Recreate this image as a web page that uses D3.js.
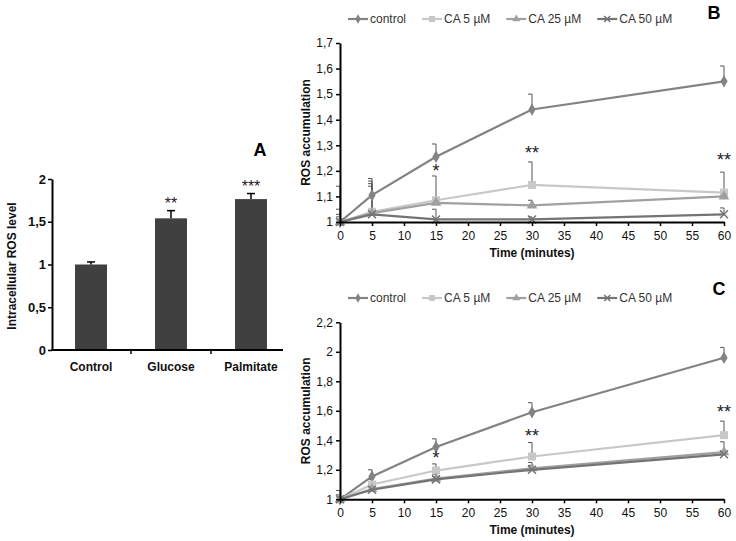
<!DOCTYPE html>
<html>
<head>
<meta charset="utf-8">
<script src="https://cdn.jsdelivr.net/npm/d3@7"></script>
<style>
  body { margin: 0; background: #fff; }
  svg { display: block; font-family: "Liberation Sans", Arial, sans-serif; }
</style>
</head>
<body>
<svg id="fig" width="736" height="541"></svg>
<script>
// ---- panel A data
var barCategories = ['Control', 'Glucose', 'Palmitate'];
var barValues = [1.0, 1.54, 1.765];
var barErrors = [0.03, 0.09, 0.065];
var barStars = ['', '**', '***'];
var barTicks = [0, 0.5, 1, 1.5, 2];

// ---- panels B and C data
var timePoints = [0, 5, 15, 30, 60];
var timeTicks = [0, 5, 10, 15, 20, 25, 30, 35, 40, 45, 50, 55, 60];
var seriesNames = ['control', 'CA 5 µM', 'CA 25 µM', 'CA 50 µM'];

var bControl = [1.0, 1.105, 1.255, 1.44, 1.55];
var bCa5 = [1.0, 1.04, 1.085, 1.145, 1.115];
var bCa25 = [1.0, 1.035, 1.075, 1.065, 1.10];
var bCa50 = [1.0, 1.03, 1.01, 1.01, 1.03];
var bControlErr = [0.14, 0.065, 0.05, 0.06, 0.06];
var bCa5Err = [0.05, 0.12, 0.095, 0.09, 0.08];
var bCa25Err = [0.03, 0.115, 0.02, 0.02, 0.02];
var bCa50Err = [0.02, 0.11, 0.04, 0.01, 0.025];
var bStarTimes = [15, 30, 60];
var bStarLabels = ['*', '**', '**'];
var bStarLevels = [1.21, 1.28, 1.255];
var bTicks = [1, 1.1, 1.2, 1.3, 1.4, 1.5, 1.6, 1.7];

var cControl = [1.0, 1.155, 1.355, 1.59, 1.96];
var cCa5 = [1.0, 1.10, 1.195, 1.29, 1.435];
var cCa25 = [1.0, 1.07, 1.14, 1.21, 1.32];
var cCa50 = [1.0, 1.065, 1.135, 1.20, 1.305];
var cControlErr = [0.06, 0.045, 0.055, 0.065, 0.07];
var cCa5Err = [0.03, 0.035, 0.045, 0.095, 0.095];
var cCa25Err = [0.02, 0.03, 0.03, 0.04, 0.07];
var cCa50Err = [0.02, 0.02, 0.02, 0.03, 0.02];
var cStarTimes = [15, 30, 60];
var cStarLabels = ['*', '**', '**'];
var cStarLevels = [1.30, 1.45, 1.61];
var cTicks = [1, 1.2, 1.4, 1.6, 1.8, 2, 2.2];

var seriesColors = ['#838383', '#c8c8c8', '#a0a0a0', '#747474'];
var seriesMarkers = ['diamond', 'square', 'triangle', 'cross'];

var svg = d3.select('#fig');

function comma(d) {
  return String(+d.toFixed(1)).replace('.', ',');
}

function styleAxis(g, bold) {
  g.select('.domain').attr('stroke', '#000').attr('stroke-width', 2);
  g.selectAll('.tick line').attr('stroke', '#000').attr('stroke-width', 1.5);
  g.selectAll('.tick text')
    .attr('fill', '#111')
    .style('font-size', bold ? '13px' : '12px')
    .style('font-weight', bold ? 'bold' : 'normal')
    .style('font-family', '"Liberation Sans", Arial, sans-serif');
}

// ================= Panel A
(function () {
  var x = d3.scaleBand().domain(barCategories).range([51, 291]).paddingInner(0.6).paddingOuter(0.3);
  var y = d3.scaleLinear().domain([0, 2]).range([350, 179]);
  var g = svg.append('g');

  g.selectAll('rect.bar')
    .data(barValues)
    .enter().append('rect')
    .attr('x', function (d, i) { return x(barCategories[i]); })
    .attr('y', function (d) { return y(d); })
    .attr('width', x.bandwidth())
    .attr('height', function (d) { return y(0) - y(d); })
    .attr('fill', '#404040');

  // error bars
  barValues.forEach(function (v, i) {
    var cx = x(barCategories[i]) + x.bandwidth() / 2;
    g.append('line').attr('x1', cx).attr('x2', cx)
      .attr('y1', y(v)).attr('y2', y(v + barErrors[i]))
      .attr('stroke', '#000').attr('stroke-width', 1.5);
    g.append('line').attr('x1', cx - 4).attr('x2', cx + 4)
      .attr('y1', y(v + barErrors[i])).attr('y2', y(v + barErrors[i]))
      .attr('stroke', '#000').attr('stroke-width', 1.5);
    if (barStars[i]) {
      g.append('text').attr('x', cx).attr('y', y(v + barErrors[i]) - 2)
        .attr('text-anchor', 'middle').attr('font-size', 16).attr('fill', '#222')
        .text(barStars[i]);
    }
  });

  var yAxis = g.append('g').attr('transform', 'translate(52,0)')
    .call(d3.axisLeft(y).tickValues(barTicks).tickFormat(comma).tickSize(4).tickSizeOuter(0).tickPadding(2));
  styleAxis(yAxis, true);

  // x axis line and category ticks
  g.append('line').attr('x1', 51).attr('x2', 283).attr('y1', 350).attr('y2', 350)
    .attr('stroke', '#000').attr('stroke-width', 2);
  [1, 2].forEach(function (i) {
    var bx = x(barCategories[i]) - x.step() * x.paddingInner() / 2;
    g.append('line').attr('x1', bx).attr('x2', bx).attr('y1', 350).attr('y2', 354)
      .attr('stroke', '#000').attr('stroke-width', 1.5);
  });
  g.selectAll('text.cat')
    .data(barCategories)
    .enter().append('text')
    .attr('x', function (d) { return x(d) + x.bandwidth() / 2; })
    .attr('y', 371)
    .attr('text-anchor', 'middle')
    .attr('font-size', 12).attr('font-weight', 'bold').attr('fill', '#111')
    .text(function (d) { return d; });

  g.append('text').attr('transform', 'translate(16,266) rotate(-90)')
    .attr('text-anchor', 'middle').attr('font-size', 12).attr('font-weight', 'bold').attr('fill', '#111')
    .text('Intracellular ROS level');

  g.append('text').attr('x', 260).attr('y', 156).attr('text-anchor', 'middle')
    .attr('font-size', 18).attr('font-weight', 'bold').text('A');
})();

// ================= Line panels
function marker(sel, type, color, size) {
  if (type === 'cross') {
    var s = size / 2;
    sel.append('path').attr('d', 'M' + (-s) + ',' + (-s) + 'L' + s + ',' + s + 'M' + (-s) + ',' + s + 'L' + s + ',' + (-s))
      .attr('stroke', color).attr('stroke-width', 1.5).attr('fill', 'none');
  } else {
    var sym = type === 'diamond' ? d3.symbolDiamond : type === 'square' ? d3.symbolSquare : d3.symbolTriangle;
    var area = type === 'diamond' ? size * size * 0.7 : type === 'square' ? size * size : size * size * 0.75;
    sel.append('path').attr('d', d3.symbol().type(sym).size(area)()).attr('fill', color);
  }
}

function linePanel(opt) {
  var g = svg.append('g');
  var x = d3.scaleLinear().domain([0, 60]).range([340, 724]);
  var y = d3.scaleLinear().domain(opt.domain).range(opt.range);
  var bottom = opt.range[0];

  // error bars
  opt.series.forEach(function (vals, si) {
    vals.forEach(function (v, i) {
      var px = x(timePoints[i]);
      var top = y(v + opt.errors[si][i]);
      g.append('line').attr('x1', px).attr('x2', px).attr('y1', y(v)).attr('y2', top)
        .attr('stroke', '#555').attr('stroke-width', 1);
      g.append('line').attr('x1', px - 4).attr('x2', px).attr('y1', top).attr('y2', top)
        .attr('stroke', '#555').attr('stroke-width', 1);
    });
  });

  var line = d3.line()
    .x(function (d, i) { return x(timePoints[i]); })
    .y(function (d) { return y(d); });

  opt.series.forEach(function (vals, si) {
    g.append('path').datum(vals).attr('d', line)
      .attr('fill', 'none').attr('stroke', seriesColors[si]).attr('stroke-width', 2.2);
    vals.forEach(function (v, i) {
      var m = g.append('g').attr('transform', 'translate(' + x(timePoints[i]) + ',' + y(v) + ')');
      marker(m, seriesMarkers[si], seriesColors[si], 8);
    });
  });

  var yAxis = g.append('g').attr('transform', 'translate(340,0)')
    .call(d3.axisLeft(y).tickValues(opt.ticks).tickFormat(comma).tickSize(4).tickSizeOuter(0).tickPadding(3));
  styleAxis(yAxis, false);

  var xAxis = g.append('g').attr('transform', 'translate(0,' + bottom + ')')
    .call(d3.axisBottom(x).tickValues(timeTicks).tickSize(4).tickSizeOuter(0).tickPadding(5));
  styleAxis(xAxis, false);

  g.append('text').attr('x', 532).attr('y', bottom + 35).attr('text-anchor', 'middle')
    .attr('font-size', 12).attr('font-weight', 'bold').attr('fill', '#111').text('Time (minutes)');

  g.append('text').attr('transform', 'translate(310,' + ((opt.range[0] + opt.range[1]) / 2) + ') rotate(-90)')
    .attr('text-anchor', 'middle').attr('font-size', 12).attr('font-weight', 'bold').attr('fill', '#111')
    .text('ROS accumulation');

  // significance stars
  opt.starTimes.forEach(function (t, i) {
    g.append('text').attr('x', x(t)).attr('y', y(opt.starLevels[i]) + 9)
      .attr('text-anchor', 'middle').attr('font-size', 18).attr('fill', '#222')
      .text(opt.starLabels[i]);
  });

  // legend
  var lx = 348;
  seriesNames.forEach(function (name, si) {
    var lg = g.append('g').attr('transform', 'translate(' + lx + ',' + opt.legendY + ')');
    lg.append('line').attr('x1', 0).attr('x2', 20).attr('y1', 0).attr('y2', 0)
      .attr('stroke', seriesColors[si]).attr('stroke-width', 2.2);
    var m = lg.append('g').attr('transform', 'translate(10,0)');
    marker(m, seriesMarkers[si], seriesColors[si], 6);
    var t = lg.append('text').attr('x', 22).attr('y', 4).attr('font-size', 12).attr('fill', '#333').text(name);
    lx += 22 + t.node().getComputedTextLength() + 16;
  });

  g.append('text').attr('x', opt.letterX).attr('y', opt.letterY).attr('text-anchor', 'middle')
    .attr('font-size', 18).attr('font-weight', 'bold').text(opt.letter);
}

linePanel({
  domain: [1, 1.7], range: [222, 43], ticks: bTicks,
  series: [bControl, bCa5, bCa25, bCa50],
  errors: [bControlErr, bCa5Err, bCa25Err, bCa50Err],
  starTimes: bStarTimes, starLabels: bStarLabels, starLevels: bStarLevels,
  legendY: 19, letter: 'B', letterX: 714, letterY: 19
});

linePanel({
  domain: [1, 2.2], range: [499.3, 322.3], ticks: cTicks,
  series: [cControl, cCa5, cCa25, cCa50],
  errors: [cControlErr, cCa5Err, cCa25Err, cCa50Err],
  starTimes: cStarTimes, starLabels: cStarLabels, starLevels: cStarLevels,
  legendY: 298, letter: 'C', letterX: 719, letterY: 295
});
</script>
</body>
</html>
